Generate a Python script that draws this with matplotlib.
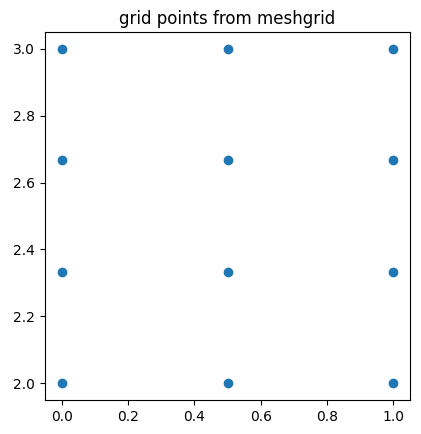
import matplotlib
matplotlib.use("Agg")
import matplotlib.pyplot as plt

x_vals = [0.0, 0.5, 1.0]
y_vals = [2.0, 2.3333, 2.6667, 3.0]

xs = [x for y in y_vals for x in x_vals]
ys = [y for y in y_vals for x in x_vals]

fig = plt.figure(figsize=(4.21, 4.34), dpi=100)
ax = fig.add_axes([45/421, 34/434, 365/421, 368/434])
ax.scatter(xs, ys, color="#1f77b4")
ax.set_title("grid points from meshgrid")
fig.savefig("out.png", dpi=100)
